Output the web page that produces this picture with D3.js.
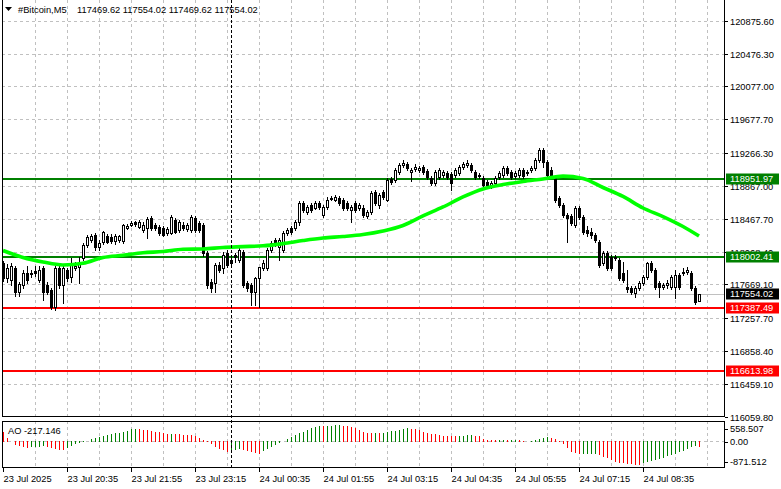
<!DOCTYPE html>
<html><head><meta charset="utf-8">
<script src="https://cdn.jsdelivr.net/npm/d3@7"></script>
<style>
html,body{margin:0;padding:0;background:#fff;}
svg{display:block;}
text{font-family:"Liberation Sans",Arial,sans-serif;font-size:9.3px;fill:#000;}
</style></head><body>
<svg id="c" width="781" height="489"></svg>
<script>
const symbolTitle = "#Bitcoin,M5";
const lastOHLC = ["117469.62","117554.02","117469.62","117554.02"];

const barOpen = [117929,117747,117722,117868,117576,117661,117807,117807,117832,117722,
117868,117661,117601,117394,117868,117661,117844,117759,117868,117880,
117991,118149,118209,118270,118124,118185,118258,118246,118197,118209,
118197,118355,118392,118428,118367,118331,118355,118477,118392,118367,
118355,118294,118294,118452,118331,
118392,118343,118331,118477,118416,
118392,118051,117698,117686,117905,117868,118051,117929,118027,117966,
118063,117686,117661,117576,117747,117868,117868,118088,118209,118124,
118088,118294,118355,118355,118428,118659,118550,118635,118598,118659,
118513,118610,118708,118695,118720,118695,118659,118574,118659,118598,
118598,118501,118550,118793,118635,118793,118695,118951,118939,119036,
119121,119133,119036,119072,119060,119097,119048,118963,118902,118975,
118999,119024,119011,118999,119024,119097,119121,119121,119036,118987,
118963,118914,118866,118902,118975,118999,119084,119036,118987,118999,
119060,119024,119060,119084,119182,
119303,119157,119060,118963,118720,118635,118513,118501,118392,118598,
118489,118331,118307,118270,118185,117929,118051,118003,117991,117966,
117807,117637,117625,117564,117625,117686,117759,117929,117844,117686,
117637,117661,117637,117637,117783,117807,117820,117807,117625,117469.62];

const barHigh = [117954,117917,117929,117893,117698,117844,117893,117844,117893,117893,
117893,117698,117625,117893,117893,117893,117868,117991,117941,118003,
118173,118270,118282,118294,118209,118319,118282,118282,118282,118270,
118404,118404,118440,118440,118452,118428,118489,118501,118416,118392,
118380,118367,118513,118477,118452,
118428,118416,118513,118501,118440,
118416,118076,117734,117929,117941,118063,118088,118015,118051,118112,
118088,117710,117686,117759,117880,117966,118112,118197,118234,118234,
118319,118355,118380,118452,118683,118683,118635,118659,118683,118683,
118635,118732,118744,118756,118744,118720,118683,118635,118683,118659,
118635,118574,118805,118817,118781,118817,118963,118975,119084,119145,
119182,119157,119084,119133,119109,119121,119072,118987,119060,119084,
119060,119048,119036,119084,119121,119157,119182,119145,119060,119024,
118987,118939,118926,118987,119048,119109,119109,119060,119048,119084,
119084,119060,119109,119206,119327,
119327,119182,119097,118987,118744,118659,118537,118525,118623,118623,
118513,118380,118355,118294,118209,118076,118076,118027,118027,117991,
117941,117844,117649,117649,117710,117783,117941,117954,117868,117710,
117686,117722,117783,117844,117807,117868,117880,117832,117649,117554.02];

const barLow = [117710,117698,117661,117528,117528,117625,117686,117759,117771,117698,
117479,117552,117369,117357,117625,117442,117710,117698,117844,117686,
117966,118124,118185,118088,118088,118161,118173,118173,118161,118185,
118173,118343,118380,118380,118355,118307,118234,118331,118331,118270,
118258,118270,118282,118294,118307,
118331,118319,118307,118307,118307,
118015,117625,117576,117576,117820,117807,117880,117893,117941,117941,
117637,117588,117418,117418,117394,117844,117844,118063,118136,117966,
118063,118270,118282,118331,118392,118550,118525,118550,118586,118586,
118489,118586,118695,118683,118635,118574,118574,118428,118550,118574,
118489,118477,118525,118635,118598,118708,118683,118890,118914,119011,
119097,119060,118926,119048,119036,119011,118951,118878,118878,118951,
118975,118951,118817,118975,118999,119072,119097,119036,118951,118963,
118853,118841,118841,118878,118951,118975,118999,118951,118963,118975,
118963,118999,119036,119060,119157,
119097,118987,118975,118671,118610,118489,118185,118392,118367,118465,
118282,118258,118234,118185,117880,117905,117844,117844,117966,117722,
117698,117576,117552,117515,117601,117661,117734,117820,117613,117515,
117613,117625,117613,117503,117613,117783,117795,117601,117430,117469.62];

const barClose = [117747,117868,117893,117576,117674,117807,117722,117795,117807,117844,
117576,117576,117394,117868,117661,117868,117747,117929,117893,117929,
118149,118246,118258,118124,118173,118307,118185,118197,118258,118258,
118392,118380,118416,118404,118428,118392,118465,118355,118355,118294,
118270,118343,118489,118307,118428,
118355,118392,118489,118331,118331,
118051,117661,117625,117905,117844,118027,117905,117966,118003,118088,
117661,117625,117576,117747,117880,117929,118088,118173,118173,118209,
118294,118331,118307,118428,118659,118574,118610,118574,118659,118610,
118610,118695,118720,118732,118659,118598,118598,118610,118574,118635,
118513,118550,118781,118659,118756,118732,118939,118914,119060,119121,
119145,119084,119060,119097,119084,119036,118975,118902,119036,119060,
119036,118975,118902,119060,119097,119133,119145,119060,118975,118999,
118878,118878,118902,118963,119024,119084,119024,118975,119024,119060,
118987,119036,119084,119182,119303,
119157,118999,118987,118695,118635,118513,118477,118416,118598,118489,
118307,118294,118270,118209,117905,118051,117868,117868,118003,117747,
117722,117613,117576,117625,117686,117759,117929,117844,117637,117637,
117661,117686,117759,117783,117637,117820,117844,117625,117455,117554.02];

const maBars = [0,5,10,15,20,25,30,35,40,45,50,55,60,65,70,75,80,85,90,95,100,105,110,115,120,125,130,135,140,145,150,155,160,165,170,174];
const maValues = [118081,117996,117941,117905,117925,117996,118023,118053,118069,118096,118100,118118,118128,118138,118165,118202,118233,118251,118275,118318,118385,118501,118610,118732,118829,118883,118920,118951,118985,118957,118847,118738,118598,118494,118373,118257];

const aoValues = [329,85,-24,-159,-195,-244,-256,-244,-232,-220,
-207,-232,-268,-305,-329,-342,-281,-195,-134,-98,
-49,-24,49,110,146,183,220,244,268,293,
329,354,415,427,415,403,390,366,329,305,
268,244,250,244,232,226,220,207,171,98,
24,-49,-122,-220,-305,-354,-403,-390,-342,-293,
-329,-378,-415,-451,-488,-390,-305,-220,-146,-73,
-24,61,122,195,268,329,390,451,500,537,
525,537,549,555,558.507,549,537,512,451,390,
329,293,268,275,268,293,317,342,366,390,
427,464,427,415,390,329,293,244,232,207,
183,171,165,159,171,183,195,207,183,171,
61,24,12,10,18,24,12,18,24,12,
0,-6,6,37,73,98,122,98,49,-37,
-122,-281,-403,-464,-500,-488,-482,-476,-470,-525,
-586,-647,-708,-769,-805,-830,-854,-866,-869,-871.512,
-830,-793,-756,-708,-671,-622,-573,-525,-476,-427,
-366,-305,-244,-195,-217.146];
const aoMax = 558.507, aoMin = -871.512;

const priceTicks = [120875.60,120476.30,120077.00,119677.70,119266.30,118867.00,118467.70,118068.40,117669.10,117257.70,116858.40,116459.10,116059.80];
const timeBars = [0,16,32,48,64,80,96,112,128,144,160];
const timeLabels = ["23 Jul 2025","23 Jul 20:35","23 Jul 21:55","23 Jul 23:15","24 Jul 00:35","24 Jul 01:55","24 Jul 03:15","24 Jul 04:35","24 Jul 05:55","24 Jul 07:15","24 Jul 08:35"];
const daySeparatorBar = 57;

const levelPrices = [118951.97,118002.41,117387.49,116613.98];
const levelKinds = ["green","green","red","red"];
const bidPrice = 117554.02;

// ---------- drawing ----------
const svg = d3.select("#c");
const LEFT = 2, RIGHT = 724, MAIN_BOTTOM = 416, AO_TOP = 421, AO_BOTTOM = 467;
const GREEN = "#008000", RED = "#ff0000", LIME = "#00ff00", GRID = "#c0c0c0";

const x = d3.scaleLinear().domain([0, 174]).range([3, 699]);
const y = d3.scaleLinear().domain([116059.8, 120875.6]).range([416.7, 20.7]);
const ao = d3.scaleLinear().domain([aoMin, aoMax]).range([464.6, 425.4]);
const px = v => Math.round(v) + 0.5;

const defs = svg.append("defs");
defs.append("clipPath").attr("id","clipMain").append("rect")
  .attr("x", LEFT+1).attr("y", 0).attr("width", RIGHT-LEFT-1).attr("height", MAIN_BOTTOM);
defs.append("clipPath").attr("id","clipAO").append("rect")
  .attr("x", LEFT+1).attr("y", AO_TOP+1).attr("width", RIGHT-LEFT-1).attr("height", AO_BOTTOM-AO_TOP-1);

// grid
const grid = svg.append("g").attr("shape-rendering","crispEdges")
  .attr("stroke", GRID).attr("stroke-dasharray","3,3").attr("stroke-width",1);
priceTicks.forEach(t => {
  const yy = px(y(t));
  if (yy < MAIN_BOTTOM) grid.append("line").attr("x1",LEFT).attr("x2",RIGHT).attr("y1",yy).attr("y2",yy);
});
d3.range(8, 180, 8).forEach(b => {
  const xx = px(x(b));
  if (xx >= RIGHT) return;
  grid.append("line").attr("x1",xx).attr("x2",xx).attr("y1",0).attr("y2",MAIN_BOTTOM);
  grid.append("line").attr("x1",xx).attr("x2",xx).attr("y1",AO_TOP).attr("y2",AO_BOTTOM);
});
grid.append("line").attr("x1",LEFT).attr("x2",RIGHT).attr("y1",px(ao(0))).attr("y2",px(ao(0)));

// bid line
svg.append("line").attr("shape-rendering","crispEdges")
  .attr("x1",LEFT).attr("x2",RIGHT).attr("y1",px(y(bidPrice))).attr("y2",px(y(bidPrice)))
  .attr("stroke", GRID).attr("stroke-width",1);

// level lines
const lv = svg.append("g").attr("shape-rendering","crispEdges");
levelPrices.forEach((p,i) => {
  const yy = Math.round(y(p));
  lv.append("line").attr("x1",LEFT).attr("x2",RIGHT+1).attr("y1",yy).attr("y2",yy)
    .attr("stroke", levelKinds[i]==="green" ? GREEN : RED).attr("stroke-width",2);
});

// candles
const cg = svg.append("g").attr("clip-path","url(#clipMain)").attr("shape-rendering","crispEdges");
d3.range(barOpen.length).forEach(i => {
  const cx = Math.round(x(i));
  const yh = Math.round(y(barHigh[i])), yl = Math.round(y(barLow[i]));
  const yo = Math.round(y(barOpen[i])), yc = Math.round(y(barClose[i]));
  const top = Math.min(yo,yc), bot = Math.max(yo,yc);
  cg.append("line").attr("x1",cx+0.5).attr("x2",cx+0.5).attr("y1",yh).attr("y2",yl+1)
    .attr("stroke","#000").attr("stroke-width",1);
  if (barClose[i] > barOpen[i] && bot - top >= 2) {
    cg.append("rect").attr("x",cx-0.5).attr("y",top+0.5).attr("width",2).attr("height",bot-top)
      .attr("fill","#fff").attr("stroke","#000").attr("stroke-width",1);
  } else {
    cg.append("rect").attr("x",cx-1).attr("y",top).attr("width",3).attr("height",Math.max(1,bot-top+1))
      .attr("fill","#000");
  }
});

// moving average
svg.append("path").attr("clip-path","url(#clipMain)")
  .datum(maBars.map((b,i)=>[b, maValues[i]]))
  .attr("d", d3.line().x(d=>x(d[0])).y(d=>y(d[1])).curve(d3.curveMonotoneX))
  .attr("fill","none").attr("stroke",LIME).attr("stroke-width",3.6).attr("stroke-linejoin","round");

// AO histogram
const ag = svg.append("g").attr("clip-path","url(#clipAO)").attr("shape-rendering","crispEdges");
aoValues.forEach((v,i) => {
  const cx = Math.round(x(i));
  const up = i > 0 && v > aoValues[i-1];
  ag.append("line").attr("x1",cx+0.5).attr("x2",cx+0.5)
    .attr("y1", Math.round(ao(0))+ (v>=0?1:0)).attr("y2", Math.round(ao(v)))
    .attr("stroke", up ? GREEN : RED).attr("stroke-width",1);
});

// frames
const fr = svg.append("g").attr("shape-rendering","crispEdges").attr("stroke","#000").attr("fill","none");
fr.append("line").attr("x1",LEFT+0.5).attr("x2",LEFT+0.5).attr("y1",0).attr("y2",MAIN_BOTTOM+1);
fr.append("line").attr("x1",LEFT).attr("x2",RIGHT+1).attr("y1",MAIN_BOTTOM+0.5).attr("y2",MAIN_BOTTOM+0.5);
fr.append("rect").attr("x",LEFT+0.5).attr("y",AO_TOP+0.5).attr("width",RIGHT-LEFT).attr("height",AO_BOTTOM-AO_TOP);

// right price axis
const ya = svg.append("g").attr("transform",`translate(${RIGHT+0.5},0)`)
  .call(d3.axisRight(y).tickValues(priceTicks).tickFormat(d=>d.toFixed(2)).tickSize(3).tickSizeOuter(0).tickPadding(3));
ya.select(".domain").attr("d", `M0,0V${MAIN_BOTTOM+1}`).attr("stroke","#000").attr("shape-rendering","crispEdges");
ya.selectAll(".tick line").attr("stroke","#000").attr("shape-rendering","crispEdges");
ya.selectAll(".tick").attr("transform", d => `translate(0,${px(y(d))})`);
ya.selectAll("text").attr("font-family",null).attr("font-size",null).attr("fill","#000").attr("dy","0.36em").attr("x",5.5);
ya.attr("font-family",null).attr("font-size",null);

// AO axis
const aoTicks = [aoMax, 0, aoMin];
const aoAxis = svg.append("g").attr("transform",`translate(${RIGHT+0.5},0)`);
aoAxis.append("line").attr("x1",0).attr("x2",0).attr("y1",AO_TOP).attr("y2",AO_BOTTOM+1).attr("stroke","#000").attr("shape-rendering","crispEdges");
aoTicks.forEach(t => {
  const yy = t===0 ? px(ao(0)) : (t>0 ? Math.max(ao(t), AO_TOP+8) : Math.min(ao(t), AO_BOTTOM-5));
  aoAxis.append("line").attr("x1",0).attr("x2",3).attr("y1",Math.round(yy)+0.5).attr("y2",Math.round(yy)+0.5).attr("stroke","#000").attr("shape-rendering","crispEdges");
  aoAxis.append("text").attr("x",5.5).attr("y",yy).attr("dy","0.36em").text(t===0 ? "0.00" : t.toFixed(3));
});

// level labels on axis
const lab = svg.append("g");
const boxes = levelPrices.map((p,i)=>({p, bg: levelKinds[i]==="green"?GREEN:RED}));
boxes.push({p: bidPrice, bg: "#000"});
boxes.forEach(b => {
  const yy = Math.round(y(b.p));
  lab.append("rect").attr("x",RIGHT+2).attr("y",yy-5.5).attr("width",53).attr("height",11).attr("fill",b.bg);
  lab.append("text").attr("x",RIGHT+6).attr("y",yy).attr("dy","0.36em").style("fill","#fff").text(b.p.toFixed(2));
});

// time axis
const xa = svg.append("g").attr("transform",`translate(0,${AO_BOTTOM+0.5})`)
  .call(d3.axisBottom(x).tickValues(timeBars).tickFormat((d,i)=>timeLabels[i]).tickSize(4).tickSizeOuter(0));
xa.select(".domain").remove();
xa.selectAll(".tick").attr("transform", d => `translate(${px(x(d))},0)`);
xa.selectAll(".tick line").attr("stroke","#000").attr("shape-rendering","crispEdges");
xa.selectAll("text").attr("font-family",null).attr("font-size",null).attr("fill","#000")
  .attr("text-anchor","start").attr("x",0).attr("y",8).attr("dy","0.71em");
xa.attr("font-family",null).attr("font-size",null);

// header
svg.append("path").attr("d","M5,7 L12,7 L8.5,11 Z").attr("fill","#000");
svg.append("text").attr("x",18).attr("y",13).text(symbolTitle);
svg.append("text").attr("x",77).attr("y",13).text(lastOHLC.join(" "));

// AO label
svg.append("text").attr("x",8).attr("y",434).text("AO " + aoValues[aoValues.length-1].toFixed(3));

// day separator
svg.append("line").attr("shape-rendering","crispEdges")
  .attr("x1",px(x(daySeparatorBar))).attr("x2",px(x(daySeparatorBar))).attr("y1",0).attr("y2",AO_BOTTOM)
  .attr("stroke","#000").attr("stroke-dasharray","3,2");
</script>
</body></html>
